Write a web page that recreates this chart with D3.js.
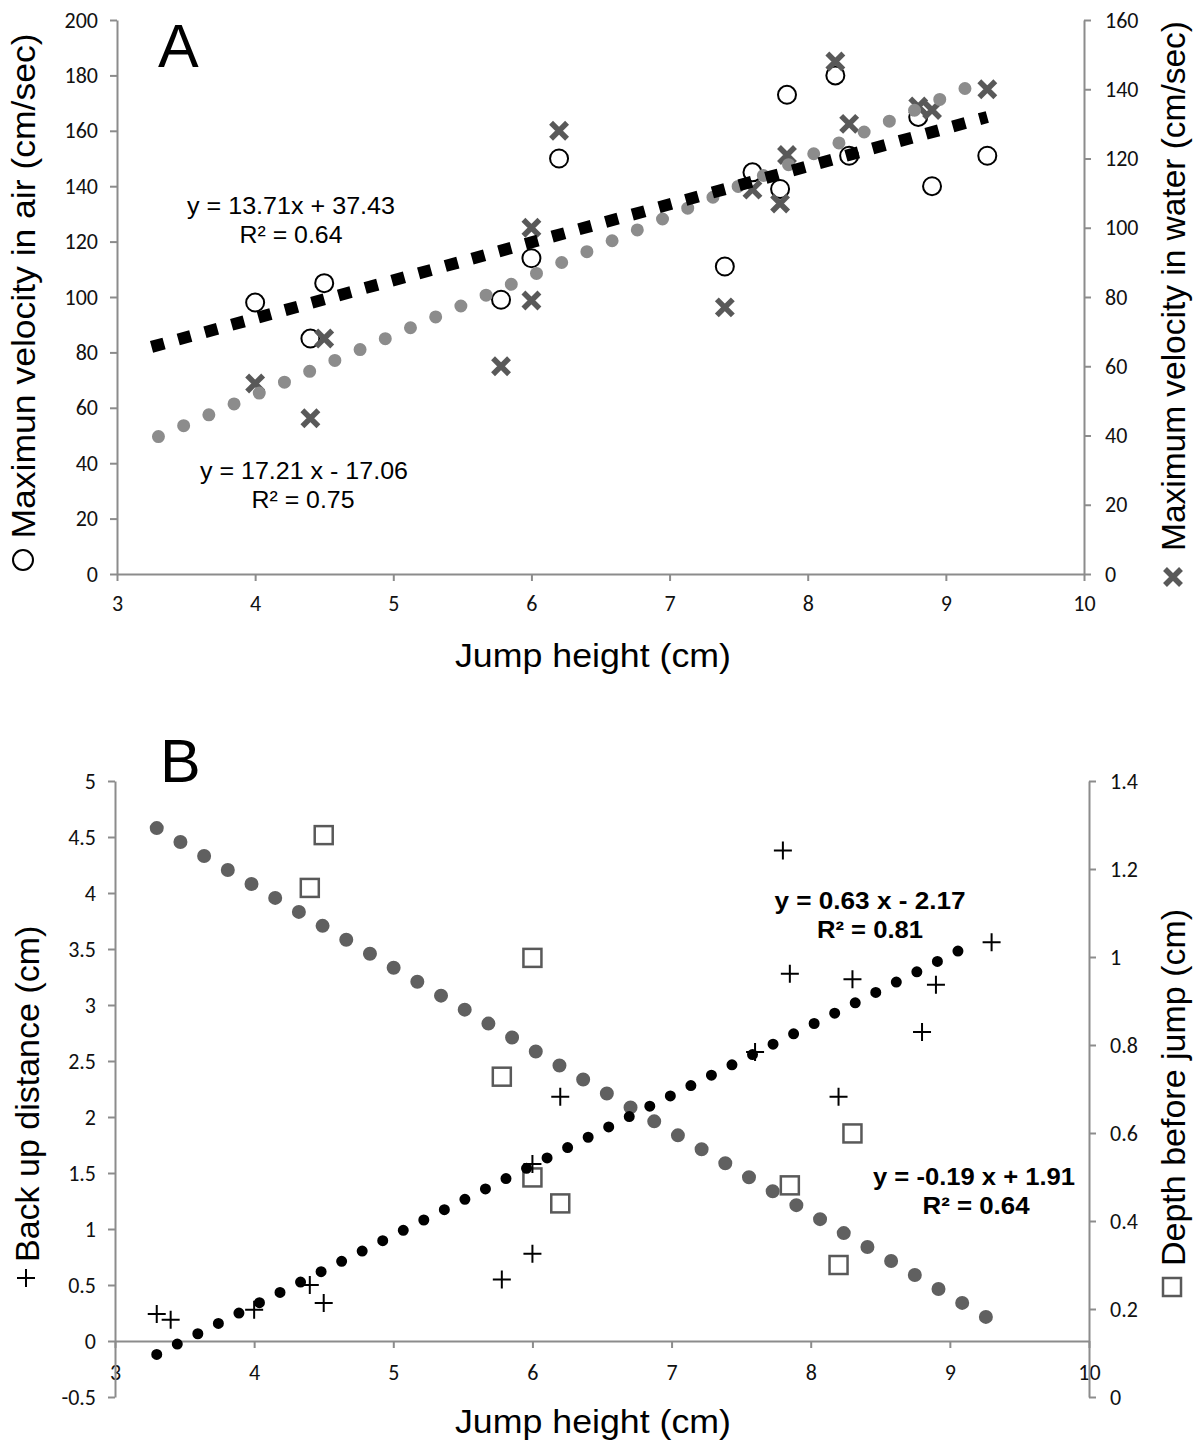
<!DOCTYPE html>
<html>
<head>
<meta charset="utf-8">
<script src="https://cdn.jsdelivr.net/npm/d3@7"></script>
<style>
  body { margin: 0; background: #fff; }
  .tick text { font-family: Carlito, Lato, "Open Sans", sans-serif; font-size: 22px; fill: #111; }
  .axis path, .axis line { stroke: #8c8c8c; stroke-width: 2; }
  .ttl { font-family: "Liberation Sans", Arial, sans-serif; font-size: 34px; fill: #000; }
  .eq { font-family: "Liberation Sans", Arial, sans-serif; font-size: 24px; fill: #000; }
  .eqb { font-family: "Liberation Sans", Arial, sans-serif; font-size: 24px; font-weight: bold; fill: #000; }
</style>
</head>
<body>
<svg id="chart" width="1193" height="1441"></svg>
<script>
// ---- data ----
// panel A: max velocity in air (left axis) / in water (right axis) vs jump height
const jumpAir = [4.0, 4.4, 4.5, 5.78, 6.0, 6.2, 7.4, 7.6, 7.8, 7.85, 8.2, 8.3, 8.8, 8.9, 9.3];
const velAir  = [98, 85, 105, 99, 114, 150, 111, 145, 139, 173, 180, 151, 165, 140, 151];
const jumpWater = [4.0, 4.4, 4.5, 5.78, 6.0, 6.0, 6.2, 7.4, 7.6, 7.8, 7.85, 8.2, 8.3, 8.8, 8.9, 9.3];
const velWater  = [55, 45, 68, 60, 79, 100, 128, 77, 111, 107, 121, 148, 130, 135, 134, 140];
const trendAir   = [[3.25, 82], [9.3, 165]];
const trendWater = [[3.3, 39.7], [9.3, 143]];

// panel B: back up distance (left axis) / depth before jump (right axis)
const jumpBack = [3.3, 3.4, 4.0, 4.4, 4.5, 5.78, 6.0, 6.0, 6.2, 7.6, 7.8, 7.85, 8.2, 8.3, 8.8, 8.9, 9.3];
const backDist = [0.24, 0.19, 0.28, 0.5, 0.34, 0.55, 0.78, 1.58, 2.18, 2.58, 4.38, 3.28, 2.18, 3.23, 2.76, 3.18, 3.56];
const jumpDepth = [4.4, 4.5, 5.78, 6.0, 6.0, 6.2, 7.85, 8.2, 8.3];
const depth     = [1.157, 1.277, 0.728, 0.998, 0.499, 0.44, 0.481, 0.30, 0.599];
const trendBack  = [[3.3, -0.12], [9.2, 3.57]];
const trendDepth = [[3.3, 1.293], [9.27, 0.18]];

const xTicks = [3, 4, 5, 6, 7, 8, 9, 10];
const yTicksAL = [0, 20, 40, 60, 80, 100, 120, 140, 160, 180, 200];
const yTicksAR = [0, 20, 40, 60, 80, 100, 120, 140, 160];
const yTicksBL = [-0.5, 0, 0.5, 1, 1.5, 2, 2.5, 3, 3.5, 4, 4.5, 5];
const yTicksBR = [0, 0.2, 0.4, 0.6, 0.8, 1, 1.2, 1.4];

const fmt = d => String(d);

const svg = d3.select("#chart");
svg.append("rect").attr("width", 1193).attr("height", 1441).attr("fill", "#fff");

const X_PATH = "M-8,-8L8,8M-8,8L8,-8";
const PLUS_PATH = "M-9,0H9M0,-9V9";

// ---------- panel A ----------
const xA = d3.scaleLinear().domain([3, 10]).range([117, 1084]);
const yAL = d3.scaleLinear().domain([0, 200]).range([574, 20]);
const yAR = d3.scaleLinear().domain([0, 160]).range([574, 20]);

svg.append("g").attr("class", "axis")
  .attr("transform", `translate(0,${yAL(0)})`)
  .call(d3.axisBottom(xA).tickValues(xTicks).tickFormat(fmt).tickSize(7).tickSizeOuter(0).tickPadding(14));
svg.append("g").attr("class", "axis")
  .attr("transform", `translate(${xA(3)},0)`)
  .call(d3.axisLeft(yAL).tickValues(yTicksAL).tickFormat(fmt).tickSize(7).tickSizeOuter(0).tickPadding(12));
svg.append("g").attr("class", "axis")
  .attr("transform", `translate(${xA(10)},0)`)
  .call(d3.axisRight(yAR).tickValues(yTicksAR).tickFormat(fmt).tickSize(7).tickSizeOuter(0).tickPadding(14));

// air: open circles
svg.append("g").selectAll("circle")
  .data(jumpAir)
  .join("circle")
  .attr("cx", d => xA(d))
  .attr("cy", (d, i) => yAL(velAir[i]))
  .attr("r", 9)
  .attr("fill", "none")
  .attr("stroke", "#000")
  .attr("stroke-width", 2);

// water: grey crosses
svg.append("g").selectAll("path")
  .data(jumpWater)
  .join("path")
  .attr("transform", (d, i) => `translate(${xA(d)},${yAR(velWater[i])})`)
  .attr("d", X_PATH)
  .attr("stroke", "#595959")
  .attr("stroke-width", 5.5)
  .attr("fill", "none");

// trendlines
svg.append("path")
  .attr("d", d3.line().x(d => xA(d[0])).y(d => yAR(d[1]))(trendWater))
  .attr("stroke", "#8c8c8c")
  .attr("stroke-width", 13)
  .attr("stroke-linecap", "round")
  .attr("stroke-dasharray", "0 27.45")
  .attr("fill", "none");
svg.append("path")
  .attr("d", d3.line().x(d => xA(d[0])).y(d => yAL(d[1]))(trendAir))
  .attr("stroke", "#000")
  .attr("stroke-width", 12)
  .attr("stroke-dasharray", "13 14.7")
  .attr("fill", "none");

// labels
svg.append("text").attr("x", 158).attr("y", 67)
  .style("font-family", "'Liberation Sans', Arial, sans-serif").style("font-size", "61px").text("A");

svg.append("text").attr("class", "eq").attr("x", 291).attr("y", 214)
  .attr("text-anchor", "middle").attr("textLength", 208).attr("lengthAdjust", "spacingAndGlyphs")
  .text("y = 13.71x + 37.43");
svg.append("text").attr("class", "eq").attr("x", 291).attr("y", 243)
  .attr("text-anchor", "middle").attr("textLength", 103).attr("lengthAdjust", "spacingAndGlyphs")
  .text("R² = 0.64");
svg.append("text").attr("class", "eq").attr("x", 304).attr("y", 479)
  .attr("text-anchor", "middle").attr("textLength", 208).attr("lengthAdjust", "spacingAndGlyphs")
  .text("y = 17.21 x - 17.06");
svg.append("text").attr("class", "eq").attr("x", 303).attr("y", 508)
  .attr("text-anchor", "middle").attr("textLength", 103).attr("lengthAdjust", "spacingAndGlyphs")
  .text("R² = 0.75");

svg.append("text").attr("class", "ttl").attr("x", 593).attr("y", 667)
  .attr("text-anchor", "middle").attr("textLength", 276).attr("lengthAdjust", "spacingAndGlyphs")
  .text("Jump height (cm)");

// left title with circle symbol
svg.append("circle").attr("cx", 23).attr("cy", 560).attr("r", 10)
  .attr("fill", "none").attr("stroke", "#000").attr("stroke-width", 2);
svg.append("text").attr("class", "ttl")
  .attr("transform", "translate(35,286) rotate(-90)")
  .attr("text-anchor", "middle").attr("textLength", 505).attr("lengthAdjust", "spacingAndGlyphs")
  .text("Maximun velocity in air (cm/sec)");

// right title with cross symbol
svg.append("path").attr("transform", "translate(1173,577)").attr("d", X_PATH)
  .attr("stroke", "#595959").attr("stroke-width", 5.5).attr("fill", "none");
svg.append("text").attr("class", "ttl")
  .attr("transform", "translate(1185,286) rotate(-90)")
  .attr("text-anchor", "middle").attr("textLength", 530).attr("lengthAdjust", "spacingAndGlyphs")
  .text("Maximum velocity in water (cm/sec)");

// ---------- panel B ----------
const xB = d3.scaleLinear().domain([3, 10]).range([115, 1089]);
const yBL = d3.scaleLinear().domain([-0.5, 5]).range([1397, 781]);
const yBR = d3.scaleLinear().domain([0, 1.4]).range([1397, 781]);

svg.append("g").attr("class", "axis")
  .attr("transform", `translate(0,${yBL(0)})`)
  .call(d3.axisBottom(xB).tickValues(xTicks).tickFormat(fmt).tickSize(7).tickSizeOuter(0).tickPadding(16));
svg.append("g").attr("class", "axis")
  .attr("transform", `translate(${xB(3)},0)`)
  .call(d3.axisLeft(yBL).tickValues(yTicksBL).tickFormat(fmt).tickSize(7).tickSizeOuter(0).tickPadding(12));
svg.append("g").attr("class", "axis")
  .attr("transform", `translate(${xB(10)},0)`)
  .call(d3.axisRight(yBR).tickValues(yTicksBR).tickFormat(fmt).tickSize(7).tickSizeOuter(0).tickPadding(14));

// depth: open grey squares
svg.append("g").selectAll("rect")
  .data(jumpDepth)
  .join("rect")
  .attr("x", d => xB(d) - 9)
  .attr("y", (d, i) => yBR(depth[i]) - 9)
  .attr("width", 18)
  .attr("height", 18)
  .attr("fill", "none")
  .attr("stroke", "#595959")
  .attr("stroke-width", 2.5);

// back up distance: plus signs
svg.append("g").selectAll("path")
  .data(jumpBack)
  .join("path")
  .attr("transform", (d, i) => `translate(${xB(d)},${yBL(backDist[i])})`)
  .attr("d", PLUS_PATH)
  .attr("stroke", "#000")
  .attr("stroke-width", 2)
  .attr("fill", "none");

// trendlines
svg.append("path")
  .attr("d", d3.line().x(d => xB(d[0])).y(d => yBR(d[1]))(trendDepth))
  .attr("stroke", "#606060")
  .attr("stroke-width", 14)
  .attr("stroke-linecap", "round")
  .attr("stroke-dasharray", "0 27.5")
  .attr("fill", "none");
svg.append("path")
  .attr("d", d3.line().x(d => xB(d[0])).y(d => yBL(d[1]))(trendBack))
  .attr("stroke", "#000")
  .attr("stroke-width", 11)
  .attr("stroke-linecap", "round")
  .attr("stroke-dasharray", "0 23")
  .attr("fill", "none");

svg.append("text").attr("x", 160).attr("y", 782)
  .style("font-family", "'Liberation Sans', Arial, sans-serif").style("font-size", "61px").text("B");

svg.append("text").attr("class", "eqb").attr("x", 870).attr("y", 909)
  .attr("text-anchor", "middle").attr("textLength", 191).attr("lengthAdjust", "spacingAndGlyphs")
  .text("y = 0.63 x - 2.17");
svg.append("text").attr("class", "eqb").attr("x", 870).attr("y", 938)
  .attr("text-anchor", "middle").attr("textLength", 106).attr("lengthAdjust", "spacingAndGlyphs")
  .text("R² = 0.81");
svg.append("text").attr("class", "eqb").attr("x", 974).attr("y", 1185)
  .attr("text-anchor", "middle").attr("textLength", 202).attr("lengthAdjust", "spacingAndGlyphs")
  .text("y = -0.19 x + 1.91");
svg.append("text").attr("class", "eqb").attr("x", 976).attr("y", 1214)
  .attr("text-anchor", "middle").attr("textLength", 107).attr("lengthAdjust", "spacingAndGlyphs")
  .text("R² = 0.64");

svg.append("text").attr("class", "ttl").attr("x", 593).attr("y", 1433)
  .attr("text-anchor", "middle").attr("textLength", 276).attr("lengthAdjust", "spacingAndGlyphs")
  .text("Jump height (cm)");

// left title with plus symbol
svg.append("path").attr("transform", "translate(26,1278)").attr("d", PLUS_PATH)
  .attr("stroke", "#000").attr("stroke-width", 2).attr("fill", "none");
svg.append("text").attr("class", "ttl")
  .attr("transform", "translate(39,1262) rotate(-90)")
  .attr("text-anchor", "start")
  .text("Back up distance (cm)");

// right title with square symbol
svg.append("rect").attr("x", 1163).attr("y", 1278).attr("width", 18).attr("height", 18)
  .attr("fill", "none").attr("stroke", "#595959").attr("stroke-width", 2.5);
svg.append("text").attr("class", "ttl")
  .attr("transform", "translate(1185,1266) rotate(-90)")
  .attr("text-anchor", "start")
  .text("Depth before jump (cm)");
</script>
</body>
</html>
